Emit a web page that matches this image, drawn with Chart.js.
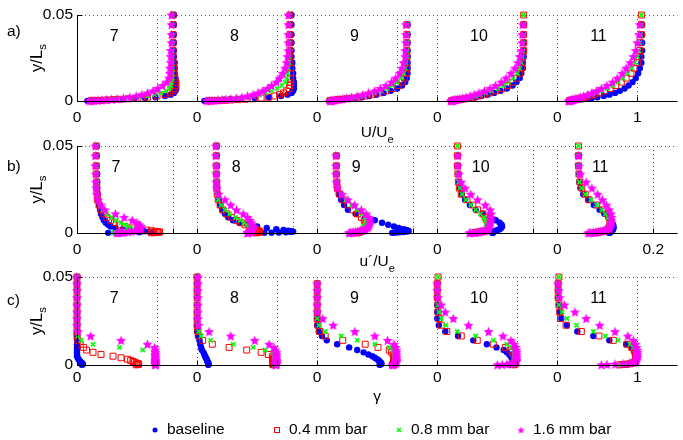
<!DOCTYPE html>
<html><head><meta charset="utf-8">
<script src="https://cdn.jsdelivr.net/npm/chart.js@4.4.1/dist/chart.umd.min.js"></script>
<style>
html,body{margin:0;padding:0;background:#fff;}
#wrap{position:relative;width:683px;height:440px;overflow:hidden;background:#fff;}
canvas{position:absolute;left:0;top:0;}
</style></head><body>
<div id="wrap">
<canvas id="ca" width="683" height="440"></canvas>
<canvas id="cb" width="683" height="440"></canvas>
<canvas id="cc" width="683" height="440"></canvas>
</div>
<script>
// ---------------- DATA ----------------
const STATIONS = ['7','8','9','10','11'];
const SERIES_LABELS = ['baseline','0.4 mm bar','0.8 mm bar','1.6 mm bar'];

// wall-normal positions y/Ls
const Y_AB = [0.050,0.0444,0.0386,0.0339,0.0293,0.0258,0.0223,0.0191,0.0161,0.0133,0.0110,0.0090,0.0073,0.0059,0.0047,0.0037,0.0029,0.0022,0.0017,0.0013,0.0010,0.0008,0.0006,0.0004,0.0003,0.0002,0.0001];
const Y_C = [0.05,0.0462,0.0424,0.0383,0.0341,0.0301,0.0264,0.0226,0.019,0.0165,0.014,0.0118,0.01,0.0085,0.0072,0.006,0.005,0.0041,0.0033,0.0026,0.002,0.0015,0.0011,0.0008,0.0005,0.0003,0.0001];

// a) U/Ue, one array per station (7..11)
const U_BASE = [
 [1.21,1.21,1.21,1.21,1.21,1.21,1.22,1.22,1.22,1.23,1.24,1.24,1.24,1.23,1.21,1.17,1.1,0.98,0.85,0.71,0.58,0.48,0.38,0.3,0.23,0.18,0.13],
 [1.18,1.18,1.18,1.18,1.18,1.18,1.19,1.19,1.2,1.2,1.21,1.21,1.21,1.2,1.18,1.13,1.05,0.9,0.72,0.55,0.42,0.34,0.27,0.2,0.15,0.12,0.09],
 [null,1.13,1.13,1.13,1.13,1.13,1.13,1.13,1.13,1.12,1.1,1.06,1.0,0.92,0.83,0.74,0.65,0.56,0.47,0.39,0.32,0.27,0.23,0.2,0.18,0.16,0.15],
 [null,1.08,1.08,1.08,1.08,1.08,1.07,1.07,1.05,1.03,0.99,0.94,0.87,0.79,0.71,0.63,0.55,0.48,0.41,0.35,0.3,0.26,0.23,0.21,0.19,0.18,0.17],
 [null,1.06,1.06,1.06,1.06,1.05,1.05,1.03,1.01,0.98,0.94,0.89,0.84,0.78,0.72,0.65,0.58,0.5,0.43,0.37,0.31,0.27,0.23,0.2,0.18,0.16,0.15]
];
const U_BAR04 = [
 [1.2,1.2,1.2,1.2,1.2,1.2,1.2,1.21,1.21,1.22,1.23,1.23,1.22,1.2,1.16,1.1,1.0,0.88,0.76,0.64,0.53,0.45,0.37,0.3,0.24,0.2,0.18],
 [1.16,1.16,1.16,1.16,1.16,1.16,1.16,1.17,1.17,1.17,1.17,1.16,1.15,1.12,1.08,1.03,0.97,0.89,0.8,0.7,0.6,0.51,0.42,0.34,0.27,0.21,0.16],
 [null,1.12,1.12,1.12,1.12,1.12,1.12,1.12,1.11,1.09,1.06,1.01,0.94,0.86,0.77,0.68,0.6,0.52,0.44,0.37,0.31,0.27,0.24,0.21,0.19,0.17,0.16],
 [1.08,1.08,1.08,1.08,1.08,1.07,1.06,1.05,1.03,0.99,0.94,0.88,0.81,0.73,0.65,0.58,0.51,0.45,0.39,0.34,0.3,0.27,0.24,0.22,0.2,0.19,0.18],
 [1.05,1.05,1.05,1.04,1.03,1.02,1.0,0.96,0.92,0.86,0.8,0.73,0.66,0.59,0.52,0.46,0.4,0.35,0.31,0.27,0.24,0.22,0.2,0.18,0.17,0.16,0.15]
];
const U_BAR08 = [
 [1.19,1.19,1.19,1.19,1.19,1.19,1.19,1.19,1.19,1.19,1.18,1.17,1.15,1.11,1.05,0.97,0.88,0.78,0.68,0.58,0.49,0.42,0.35,0.29,0.24,0.2,0.17],
 [1.15,1.15,1.15,1.15,1.15,1.15,1.15,1.14,1.13,1.12,1.1,1.06,1.0,0.93,0.86,0.78,0.7,0.62,0.54,0.46,0.39,0.33,0.28,0.23,0.19,0.16,0.13],
 [null,1.12,1.12,1.12,1.12,1.12,1.11,1.1,1.08,1.05,1.0,0.94,0.87,0.79,0.71,0.63,0.55,0.48,0.41,0.35,0.3,0.26,0.23,0.2,0.18,0.17,0.16],
 [1.08,1.08,1.08,1.07,1.07,1.06,1.05,1.03,1.0,0.95,0.89,0.83,0.76,0.68,0.61,0.54,0.48,0.42,0.37,0.32,0.28,0.25,0.23,0.21,0.2,0.19,0.18],
 [1.05,1.05,1.04,1.03,1.02,1.0,0.97,0.93,0.88,0.82,0.76,0.69,0.62,0.55,0.49,0.43,0.37,0.33,0.29,0.26,0.23,0.21,0.19,0.18,0.17,0.16,0.15]
];
const U_BAR16 = [
 [1.18,1.18,1.18,1.18,1.17,1.17,1.17,1.16,1.16,1.15,1.12,1.07,1.01,0.95,0.88,0.81,0.74,0.66,0.58,0.5,0.43,0.37,0.31,0.26,0.22,0.18,0.15],
 [1.14,1.14,1.14,1.14,1.14,1.13,1.12,1.1,1.07,1.03,0.99,0.93,0.88,0.82,0.76,0.7,0.63,0.56,0.49,0.42,0.36,0.31,0.26,0.22,0.18,0.15,0.12],
 [null,1.11,1.11,1.11,1.1,1.1,1.08,1.06,1.03,0.98,0.93,0.86,0.79,0.72,0.64,0.57,0.5,0.43,0.37,0.32,0.28,0.25,0.22,0.2,0.18,0.17,0.16],
 [null,1.07,1.06,1.06,1.05,1.03,1.01,0.97,0.92,0.86,0.8,0.73,0.66,0.59,0.52,0.46,0.41,0.36,0.32,0.28,0.25,0.23,0.21,0.2,0.19,0.18,0.17],
 [null,1.03,1.02,1.0,0.98,0.95,0.91,0.86,0.81,0.75,0.69,0.62,0.55,0.49,0.43,0.38,0.33,0.29,0.26,0.23,0.21,0.19,0.18,0.17,0.16,0.15,0.14]
];

// b) u'/Ue
const RMS_BASE = [
 [0.041,0.041,0.041,0.042,0.042,0.042,0.043,0.044,0.046,0.048,0.05,0.053,0.056,0.06,0.065,0.07,0.08,0.095,0.11,0.125,0.14,0.15,0.155,0.13,0.1,0.08,0.065],
 [0.041,0.041,0.041,0.041,0.041,0.042,0.043,0.045,0.048,0.052,0.058,0.065,0.075,0.088,0.105,0.125,0.145,0.165,0.18,0.19,0.196,0.2,0.195,0.185,0.17,0.155,0.14],
 [null,0.04,0.04,0.04,0.041,0.042,0.045,0.05,0.056,0.064,0.08,0.1,0.12,0.135,0.148,0.16,0.17,0.18,0.186,0.19,0.19,0.186,0.18,0.172,0.165,0.16,0.156],
 [null,0.043,0.043,0.044,0.045,0.047,0.051,0.058,0.068,0.08,0.095,0.11,0.122,0.13,0.134,0.135,0.133,0.13,0.126,0.122,0.12,0.118,0.117,0.116,0.116,0.115,0.115],
 [null,0.044,0.044,0.045,0.046,0.048,0.054,0.064,0.076,0.088,0.098,0.106,0.111,0.114,0.116,0.117,0.117,0.116,0.115,0.113,0.112,0.111,0.11,0.11,0.109,0.109,0.108]
];
const RMS_BAR04 = [
 [0.04,0.04,0.04,0.04,0.041,0.041,0.042,0.043,0.046,0.05,0.056,0.062,0.07,0.078,0.088,0.1,0.115,0.13,0.145,0.155,0.162,0.168,0.172,0.17,0.165,0.16,0.155],
 [0.04,0.04,0.04,0.04,0.041,0.041,0.042,0.044,0.048,0.054,0.062,0.072,0.082,0.092,0.1,0.108,0.115,0.12,0.124,0.127,0.129,0.13,0.13,0.128,0.126,0.124,0.122],
 [null,0.04,0.04,0.04,0.041,0.042,0.047,0.054,0.064,0.074,0.084,0.092,0.098,0.101,0.102,0.102,0.1,0.098,0.096,0.094,0.092,0.09,0.088,0.086,0.085,0.084,0.083],
 [0.042,0.042,0.042,0.043,0.044,0.046,0.05,0.062,0.074,0.084,0.095,0.1,0.104,0.106,0.107,0.107,0.107,0.106,0.104,0.1,0.096,0.092,0.088,0.085,0.082,0.08,0.078],
 [0.044,0.044,0.044,0.045,0.047,0.051,0.058,0.066,0.082,0.095,0.105,0.108,0.11,0.11,0.11,0.109,0.108,0.106,0.103,0.1,0.096,0.092,0.088,0.085,0.082,0.08,0.078]
];
const RMS_BAR08 = [
 [0.04,0.04,0.04,0.04,0.041,0.041,0.042,0.044,0.048,0.054,0.062,0.072,0.082,0.092,0.1,0.106,0.11,0.112,0.11,0.105,0.1,0.095,0.09,0.085,0.08,0.078,0.075],
 [0.04,0.04,0.04,0.04,0.041,0.041,0.042,0.044,0.05,0.058,0.068,0.08,0.09,0.098,0.104,0.108,0.11,0.112,0.112,0.111,0.11,0.109,0.108,0.107,0.106,0.105,0.105],
 [null,0.04,0.04,0.04,0.041,0.043,0.05,0.06,0.072,0.084,0.094,0.1,0.102,0.102,0.1,0.098,0.096,0.094,0.092,0.09,0.088,0.086,0.084,0.082,0.08,0.079,0.078],
 [0.042,0.042,0.042,0.043,0.045,0.047,0.052,0.06,0.07,0.08,0.09,0.097,0.1,0.102,0.103,0.103,0.103,0.102,0.1,0.097,0.094,0.09,0.086,0.083,0.08,0.078,0.076],
 [0.044,0.044,0.044,0.045,0.046,0.05,0.058,0.07,0.082,0.093,0.1,0.105,0.108,0.109,0.109,0.108,0.107,0.105,0.102,0.098,0.094,0.09,0.086,0.082,0.079,0.076,0.074]
];
const RMS_BAR16 = [
 [0.038,0.038,0.038,0.039,0.039,0.04,0.041,0.044,0.05,0.058,0.08,0.098,0.115,0.125,0.13,0.133,0.132,0.13,0.125,0.12,0.113,0.107,0.1,0.095,0.09,0.086,0.083],
 [0.039,0.039,0.04,0.04,0.04,0.041,0.045,0.058,0.07,0.082,0.096,0.105,0.11,0.113,0.115,0.116,0.116,0.116,0.115,0.113,0.112,0.11,0.108,0.107,0.106,0.105,0.105],
 [null,0.039,0.039,0.039,0.04,0.042,0.052,0.064,0.078,0.092,0.102,0.108,0.11,0.11,0.109,0.107,0.105,0.1,0.095,0.09,0.085,0.08,0.076,0.073,0.07,0.068,0.066],
 [null,0.043,0.043,0.045,0.05,0.058,0.07,0.084,0.1,0.11,0.112,0.112,0.111,0.11,0.109,0.108,0.107,0.106,0.104,0.1,0.095,0.09,0.085,0.08,0.075,0.07,0.067],
 [null,0.044,0.045,0.048,0.06,0.072,0.084,0.094,0.102,0.108,0.112,0.113,0.113,0.112,0.111,0.11,0.108,0.105,0.1,0.095,0.09,0.085,0.08,0.075,0.07,0.067,0.064]
];

// c) intermittency gamma
const GAM_BASE = [
 [0,0,0,0,0,0,0,0,0,0,0,0,0,0,0,0,0,0.01,0.02,0.03,0.04,0.05,0.06,0.07,0.07,0.07,0.06],
 [0,0,0,0,0,0,0,0,0,0.01,0.03,0.04,0.05,0.06,0.08,0.09,0.1,0.11,0.12,0.125,0.13,0.135,0.14,0.14,0.14,0.14,0.14],
 [null,0,0,0,0,0,0,0,0.02,0.06,0.12,0.25,0.4,0.5,0.58,0.64,0.69,0.72,0.75,0.77,0.78,0.79,0.8,0.8,0.8,0.79,0.78],
 [null,0,0,0,0,0,0,0.02,0.1,0.26,0.45,0.62,0.74,0.83,0.87,0.9,0.92,0.93,0.94,0.95,0.95,0.95,0.95,0.94,0.93,0.92,0.9],
 [null,0.01,0.01,0.01,0.02,0.03,0.05,0.12,0.25,0.45,0.65,0.86,0.93,0.96,0.97,0.98,0.98,0.98,0.98,0.98,0.97,0.96,0.94,0.92,0.9,0.87,0.85]
];
const GAM_BAR04 = [
 [0,0,0,0,0,0,0,0,0,0,0.01,0.04,0.08,0.12,0.2,0.3,0.45,0.55,0.63,0.67,0.7,0.72,0.74,0.76,0.77,0.76,0.74],
 [0,0,0,0,0,0,0,0,0.01,0.02,0.07,0.19,0.4,0.62,0.8,0.89,0.94,0.95,0.95,0.95,0.95,0.95,0.95,0.95,0.95,0.95,0.95],
 [null,0,0,0,0,0,0,0.01,0.03,0.1,0.32,0.6,0.76,0.9,0.93,0.95,0.96,0.96,0.96,0.96,0.96,0.96,0.96,0.96,0.95,0.95,0.94],
 [0.01,0,0,0,0.01,0.01,0.02,0.05,0.12,0.3,0.5,0.7,0.85,0.91,0.94,0.96,0.97,0.97,0.97,0.97,0.97,0.97,0.97,0.97,0.97,0.96,0.96],
 [0.02,0.01,0.01,0.01,0.02,0.03,0.04,0.11,0.3,0.52,0.7,0.87,0.93,0.96,0.97,0.98,0.98,0.98,0.98,0.98,0.97,0.96,0.94,0.91,0.87,0.82,0.78]
];
const GAM_BAR08 = [
 [0,0,0,0,0,0,0,0,0,0.01,0.05,0.2,0.53,0.82,0.95,0.96,0.96,0.96,0.96,0.96,0.96,0.96,0.96,0.96,0.96,0.96,0.96],
 [0,0,0,0,0,0,0,0.01,0.02,0.05,0.17,0.45,0.7,0.85,0.95,0.97,0.97,0.97,0.97,0.97,0.97,0.97,0.97,0.97,0.97,0.97,0.97],
 [null,0,0,0,0,0,0,0.02,0.1,0.3,0.5,0.72,0.9,0.95,0.97,0.97,0.97,0.97,0.97,0.97,0.97,0.97,0.97,0.97,0.97,0.97,0.96],
 [0.01,0,0,0.01,0.01,0.02,0.05,0.11,0.25,0.48,0.7,0.87,0.93,0.96,0.97,0.97,0.97,0.97,0.97,0.97,0.97,0.97,0.97,0.97,0.96,0.96,0.95],
 [0.02,0.01,0.01,0.01,0.02,0.06,0.12,0.24,0.45,0.6,0.76,0.91,0.95,0.97,0.98,0.98,0.98,0.98,0.98,0.98,0.97,0.96,0.94,0.9,0.85,0.8,0.75]
];
const GAM_BAR16 = [
 [0,0,0,0,0,0,0,0,0.01,0.17,0.55,0.88,0.97,0.98,0.98,0.98,0.98,0.98,0.98,0.98,0.98,0.98,0.98,0.98,0.98,0.98,0.98],
 [0.01,0.01,0.01,0.01,0.01,0.01,0.01,0.02,0.15,0.42,0.72,0.9,0.96,0.98,0.99,0.99,0.99,0.99,0.99,0.99,0.99,0.99,0.99,0.99,0.99,0.99,0.98],
 [null,0,0,0,0,0,0.07,0.2,0.47,0.72,0.88,0.96,0.98,0.99,0.99,0.99,0.99,0.99,0.99,0.99,0.99,0.99,0.98,0.97,0.96,0.95,0.94],
 [null,0,0,0.01,0.05,0.1,0.2,0.39,0.64,0.82,0.92,0.96,0.98,0.99,0.99,0.99,0.99,0.99,0.99,0.99,0.99,0.98,0.96,0.92,0.87,0.81,0.75],
 [null,0.01,0.02,0.03,0.09,0.22,0.36,0.53,0.72,0.88,0.95,0.98,0.99,1.0,1.0,1.0,1.0,1.0,0.99,0.99,0.98,0.95,0.9,0.82,0.72,0.62,0.55]
];

// axis ticks
const OFFSET_U = [0, 1.5, 3, 4.5, 6];
const OFFSET_RMS = [0, 0.25, 0.5, 0.75, 1.0];
const TICKS_U = [0,1,1.5,2.5,3,4,4.5,5.5,6,7];
const TICK_LABELS_U = ['0','','0','','0','','0','','0','1'];
const TICKS_RMS = [0,0.2,0.25,0.45,0.5,0.7,0.75,0.95,1.0,1.2];
const TICK_LABELS_RMS = ['0','','0','','0','','0','','0','0.2'];
const TICKS_Y = [0, 0.05];
const TICK_LABELS_Y = ['0','0.05'];

// ---------------- RENDERING ----------------
const FAM = '"Liberation Sans", Arial, Helvetica, sans-serif';
const FS = 15.5;
const GRID_COLOR = '#555';

function starCanvas(color, R) {
  const s = 13, c = document.createElement('canvas');
  c.width = s; c.height = s;
  const g = c.getContext('2d');
  g.fillStyle = color; g.beginPath();
  const r = R * 0.45;
  for (let i = 0; i < 10; i++) {
    const a = -Math.PI / 2 + i * Math.PI / 5, rr = (i % 2) ? r : R;
    g.lineTo(s / 2 + rr * Math.cos(a), s / 2 + rr * Math.sin(a) + 0.5);
  }
  g.closePath(); g.fill();
  return c;
}
const STAR = starCanvas('#ff00ff', 5.3);
const STAR_SMALL = starCanvas('#ff00ff', 3.8);

const STYLES = [
  {color:'#0000ff', fill:'#0000ff', pointStyle:'circle', radius:3.2, bw:0},
  {color:'#ff0000', fill:'rgba(0,0,0,0)', pointStyle:'rect', radius:4.2, bw:1},
  {color:'#00ff00', fill:'#00ff00', pointStyle:'crossRot', radius:3, bw:1.6},
  {color:'#ff00ff', fill:'#ff00ff', pointStyle:STAR, radius:5.3, bw:0}
];

function toPoints(stations, yArr, offs) {
  const pts = [];
  stations.forEach((vals, k) => vals.forEach((v, i) => {
    if (v !== null) pts.push({x: offs[k] + v, y: yArr[i]});
  }));
  return pts;
}
function datasetsFor(series, yArr, offs) {
  return series.map((st, j) => {
    const s = STYLES[j];
    return {
      label: SERIES_LABELS[j], data: toPoints(st, yArr, offs), showLine: false, clip: false,
      order: 3 - j, pointStyle: s.pointStyle, pointRadius: s.radius, pointBorderWidth: s.bw,
      pointBackgroundColor: s.fill, pointBorderColor: s.color
    };
  });
}
function al(p) { return Math.round(p - 0.5) + 0.5; }

function subText(ctx, main, sub, x, y, size, subSize, drop) {
  ctx.font = size + 'px ' + FAM; const w1 = ctx.measureText(main).width;
  ctx.font = subSize + 'px ' + FAM; const w2 = sub ? ctx.measureText(sub).width : 0;
  const x0 = x - (w1 + w2) / 2;
  ctx.textAlign = 'left'; ctx.textBaseline = 'alphabetic';
  ctx.font = size + 'px ' + FAM; ctx.fillText(main, x0, y);
  if (sub) { ctx.font = subSize + 'px ' + FAM; ctx.fillText(sub, x0 + w1, y + drop); }
}

function drawMarker(ctx, j, x, y) {
  const s = STYLES[j];
  ctx.save();
  if (j === 0) { ctx.fillStyle = s.fill; ctx.beginPath(); ctx.arc(x, y, 2.5, 0, Math.PI * 2); ctx.fill(); }
  else if (j === 1) { ctx.strokeStyle = s.color; ctx.lineWidth = 1; ctx.strokeRect(x - 2.5, y - 2.5, 5, 5); }
  else if (j === 2) { ctx.strokeStyle = s.color; ctx.lineWidth = 1.5; ctx.beginPath();
    ctx.moveTo(x - 2, y - 2); ctx.lineTo(x + 2, y + 2); ctx.moveTo(x + 2, y - 2); ctx.lineTo(x - 2, y + 2); ctx.stroke(); }
  else { ctx.drawImage(STAR_SMALL, x - STAR_SMALL.width / 2, y - STAR_SMALL.height / 2); }
  ctx.restore();
}

function makeLayer(cfg) {
  return {
    id: 'layer' + cfg.id,
    afterDraw(chart) {
      const ctx = chart.ctx, xs = chart.scales.x, ys = chart.scales.y, ca = chart.chartArea;
      ctx.save();
      const L = al(ca.left), B = al(ca.bottom);
      ctx.strokeStyle = '#000'; ctx.lineWidth = 1;
      ctx.beginPath(); ctx.moveTo(L, ca.top); ctx.lineTo(L, B); ctx.lineTo(ca.right, B); ctx.stroke();
      ctx.beginPath();
      xs.ticks.forEach(t => { const p = al(xs.getPixelForValue(t.value)); ctx.moveTo(p, B); ctx.lineTo(p, B - 5); });
      ys.ticks.forEach(t => { const p = al(ys.getPixelForValue(t.value)); ctx.moveTo(L, p); ctx.lineTo(L + 5, p); });
      ctx.stroke();
      ctx.fillStyle = '#000';
      // station numbers
      ctx.font = '16px ' + FAM; ctx.textAlign = 'left'; ctx.textBaseline = 'middle';
      STATIONS.forEach((s, k) => {
        ctx.fillText(s, xs.getPixelForValue(cfg.offs[k] + cfg.labelDx), ys.getPixelForValue(0.0376));
      });
      // row label
      ctx.font = FS + 'px ' + FAM;
      ctx.fillText(cfg.rowLabel, 7, cfg.rowLabelY);
      // x title
      subText(ctx, cfg.xMain, cfg.xSub, (ca.left + ca.right) / 2, cfg.xTitleY, FS, 11, 6);
      // y title
      ctx.save();
      ctx.translate(42, (ca.top + ca.bottom) / 2);
      ctx.rotate(-Math.PI / 2);
      subText(ctx, 'y/L', 's', 0, 0, 16.5, 11.5, 4);
      ctx.restore();
      // legend
      if (cfg.legend) {
        const LX = [155, 277, 399, 521];
        ctx.font = FS + 'px ' + FAM; ctx.textAlign = 'left'; ctx.textBaseline = 'middle';
        chart.data.datasets.forEach((d, j) => {
          drawMarker(ctx, j, LX[j], 430);
          ctx.fillStyle = '#000';
          ctx.fillText(d.label, LX[j] + 12, 430);
        });
      }
      ctx.restore();
    }
  };
}

Chart.defaults.font.family = FAM;
Chart.defaults.font.size = FS;
Chart.defaults.color = '#000';

function makeRow(canvasId, cfg) {
  return new Chart(document.getElementById(canvasId), {
    type: 'scatter',
    data: { datasets: datasetsFor(cfg.series, cfg.yArr, cfg.offs) },
    options: {
      responsive: false, animation: false, devicePixelRatio: 1, events: [],
      layout: { padding: { top: cfg.top, bottom: 440 - cfg.bottom - 30, left: 0, right: 0 } },
      plugins: { legend: { display: false }, tooltip: { enabled: false } },
      scales: {
        x: {
          type: 'linear', min: 0, max: cfg.xmax,
          afterBuildTicks: a => { a.ticks = cfg.xticks.map(v => ({ value: v })); },
          afterFit: a => { a.height = 30; },
          ticks: { autoSkip: false, maxRotation: 0, minRotation: 0, padding: cfg.xpad, color: '#000',
                   font: { family: FAM, size: FS }, callback: (v, i) => cfg.xlabels[i] },
          grid: { drawTicks: false, color: GRID_COLOR, lineWidth: 1 },
          border: { display: false, dash: [1, 3] }
        },
        y: {
          type: 'linear', min: 0, max: 0.05,
          afterBuildTicks: a => { a.ticks = TICKS_Y.map(v => ({ value: v })); },
          afterFit: a => { a.width = 77; },
          ticks: { padding: 4, color: '#000', font: { family: FAM, size: FS }, callback: (v, i) => TICK_LABELS_Y[i] },
          grid: { drawTicks: false, color: GRID_COLOR, lineWidth: 1 },
          border: { display: false, dash: [1, 3] }
        }
      }
    },
    plugins: [makeLayer(cfg)]
  });
}

makeRow('ca', { id: 'a', series: [U_BASE, U_BAR04, U_BAR08, U_BAR16], yArr: Y_AB, offs: OFFSET_U,
  top: 15, bottom: 101, xmax: 7.5, xticks: TICKS_U, xlabels: TICK_LABELS_U, xpad: 7, labelDx: 0.41,
  rowLabel: 'a)', rowLabelY: 32, xMain: 'U/U', xSub: 'e', xTitleY: 137 });
makeRow('cb', { id: 'b', series: [RMS_BASE, RMS_BAR04, RMS_BAR08, RMS_BAR16], yArr: Y_AB, offs: OFFSET_RMS,
  top: 146, bottom: 233, xmax: 1.25, xticks: TICKS_RMS, xlabels: TICK_LABELS_RMS, xpad: 7, labelDx: 0.072,
  rowLabel: 'b)', rowLabelY: 167, xMain: 'u\u00B4/U', xSub: 'e', xTitleY: 266 });
makeRow('cc', { id: 'c', series: [GAM_BASE, GAM_BAR04, GAM_BAR08, GAM_BAR16], yArr: Y_C, offs: OFFSET_U,
  top: 277, bottom: 365, xmax: 7.5, xticks: TICKS_U, xlabels: TICK_LABELS_U, xpad: 3, labelDx: 0.41,
  rowLabel: 'c)', rowLabelY: 301, xMain: '\u03B3', xSub: '', xTitleY: 401, legend: true });
</script></body></html>
